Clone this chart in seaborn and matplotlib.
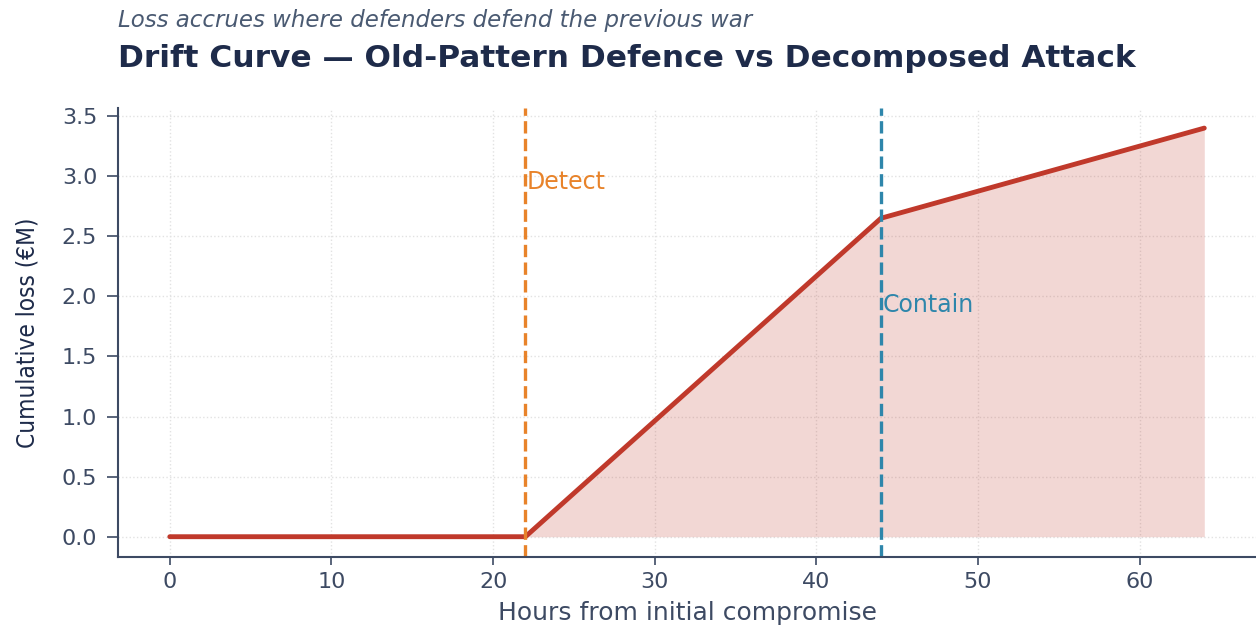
import matplotlib
matplotlib.use('Agg')
import matplotlib.pyplot as plt
import seaborn as sns
import pandas as pd

hours = [0, 22, 44, 64]
loss = [0.0, 0.0, 2.65, 3.4]
detect_hour = 22
contain_hour = 44

title = 'Drift Curve — Old-Pattern Defence vs Decomposed Attack'
subtitle = 'Loss accrues where defenders defend the previous war'

navy = '#1e2b4a'
slate = '#3d4a63'
red = '#c0392b'
orange = '#e8832a'
blue = '#2e86ab'

sns.set_theme(style='white')
plt.rcParams['font.family'] = ['DejaVu Sans']

df = pd.DataFrame({'hours': hours, 'loss': loss})

fig, ax = plt.subplots(figsize=(12.56, 6.26), dpi=100)
fig.subplots_adjust(left=0.094, right=1.0, top=0.828, bottom=0.11)

sns.lineplot(data=df, x='hours', y='loss', ax=ax, color=red, linewidth=3.5)
after = df[df['hours'] >= detect_hour]
ax.fill_between(after['hours'], after['loss'], 0, color=red, alpha=0.2, linewidth=0)

ax.axvline(detect_hour, color=orange, linestyle='--', linewidth=2.4)
ax.axvline(contain_hour, color=blue, linestyle='--', linewidth=2.4)
ax.text(detect_hour + 0.1, 2.95, 'Detect', color=orange, fontsize=17, va='center', ha='left')
ax.text(contain_hour + 0.1, 1.93, 'Contain', color=blue, fontsize=17, va='center', ha='left')

ax.grid(True, linestyle=':', color='#e2e2e2', linewidth=1)
sns.despine(ax=ax)
for s in ['left', 'bottom']:
    ax.spines[s].set_color(slate)
    ax.spines[s].set_linewidth(1.5)

ax.set_xlabel('Hours from initial compromise', fontsize=18, color=slate, labelpad=6)
ax.set_ylabel('Cumulative loss (€M)', fontsize=17.5, color=navy, fontstretch='condensed', labelpad=16)
ax.tick_params(axis='both', colors=slate, width=1.2, labelsize=16, left=True, bottom=True)
ax.tick_params(axis='y', length=8, pad=7)
ax.tick_params(axis='x', length=6, pad=5)

fig.text(0.094, 0.968, subtitle, fontsize=16.5, style='italic', color='#4a5a72', ha='left', va='center')
fig.text(0.094, 0.907, title, fontsize=22.5, weight='bold', color=navy, ha='left', va='center')

fig.savefig('out.png', dpi=100)
